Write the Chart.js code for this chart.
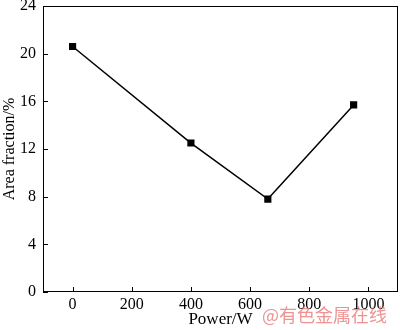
<!DOCTYPE html>
<html>
<head>
<meta charset="utf-8">
<script src="https://cdn.jsdelivr.net/npm/chart.js@4"></script>
<style>
  html, body { margin: 0; padding: 0; background: #fff; }
  #wrap { width: 400px; height: 330px; position: relative; }
</style>
</head>
<body>
<div id="wrap"><canvas id="powerChart"></canvas></div>
<script>
// --- Chart Data ---
const powerW = [0, 400, 660, 950];
const areaFraction = [20.6, 12.5, 7.8, 15.7];
const xTickValues = [0, 200, 400, 600, 800, 1000];
const yTickValues = [0, 4, 8, 12, 16, 20, 24];
const xTitle = 'Power/W';
const yTitle = 'Area fraction/%';
const watermark = '@有色金属在线';

const serif = 'Liberation Serif';

// frame, inward ticks and watermark
const framePlugin = {
    id: 'frame',
    afterDraw(chart) {
        const { ctx, chartArea: a, scales } = chart;
        ctx.save();
        ctx.strokeStyle = '#000';
        ctx.lineWidth = 1;
        ctx.strokeRect(a.left + 0.5, a.top + 0.5, a.right - a.left - 1, a.bottom - a.top - 1);
        ctx.beginPath();
        xTickValues.forEach(v => {
            const px = Math.round(scales.x.getPixelForValue(v)) + 0.5;
            ctx.moveTo(px, a.bottom);
            ctx.lineTo(px, a.bottom - 5);
        });
        yTickValues.forEach(v => {
            const py = Math.round(scales.y.getPixelForValue(v)) + 0.5;
            ctx.moveTo(a.left, py);
            ctx.lineTo(a.left + 5, py);
        });
        ctx.stroke();
        ctx.fillStyle = 'rgba(232, 110, 110, 0.75)';
        ctx.font = '18px "Noto Sans CJK SC"';
        ctx.textBaseline = 'middle';
        ctx.fillText(watermark, 262, 315);
        ctx.restore();
    }
};

const ctx = document.getElementById('powerChart').getContext('2d');
const powerChart = new Chart(ctx, {
    type: 'scatter',
    data: {
        datasets: [{
            data: powerW.map((p, i) => ({ x: p, y: areaFraction[i] })),
            showLine: true,
            borderColor: '#000',
            backgroundColor: '#000',
            borderWidth: 1.5,
            pointStyle: 'rect',
            pointRadius: 4,
            pointHoverRadius: 4,
            tension: 0
        }]
    },
    options: {
        responsive: true,
        maintainAspectRatio: false,
        animation: false,
        layout: { autoPadding: false, padding: { top: 6, right: 2, bottom: 0, left: 0 } },
        plugins: {
            legend: { display: false },
            tooltip: { enabled: false }
        },
        scales: {
            x: {
                type: 'linear',
                min: -100,
                max: 1100,
                afterBuildTicks: s => { s.ticks = xTickValues.map(v => ({ value: v })); },
                afterFit: s => { s.height = 38; s.paddingLeft = 0; s.paddingRight = 0; },
                grid: { display: false, drawTicks: false },
                border: { display: false },
                ticks: { color: '#000', font: { family: serif, size: 16 }, padding: 3, maxRotation: 0, callback: v => String(v) },
                title: { display: true, text: xTitle, color: '#000', font: { family: serif, size: 17 }, padding: { top: 0, bottom: 0 } }
            },
            y: {
                min: 0,
                max: 24,
                afterBuildTicks: s => { s.ticks = yTickValues.map(v => ({ value: v })); },
                afterFit: s => { s.width = 43; s.paddingTop = 0; s.paddingBottom = 0; },
                grid: { display: false, drawTicks: false },
                border: { display: false },
                ticks: { color: '#000', font: { family: serif, size: 16 }, padding: 7, callback: v => String(v) },
                title: { display: true, text: yTitle, color: '#000', font: { family: serif, size: 16 }, padding: { top: 0, bottom: 0 } }
            }
        }
    },
    plugins: [framePlugin]
});
</script>
</body>
</html>
